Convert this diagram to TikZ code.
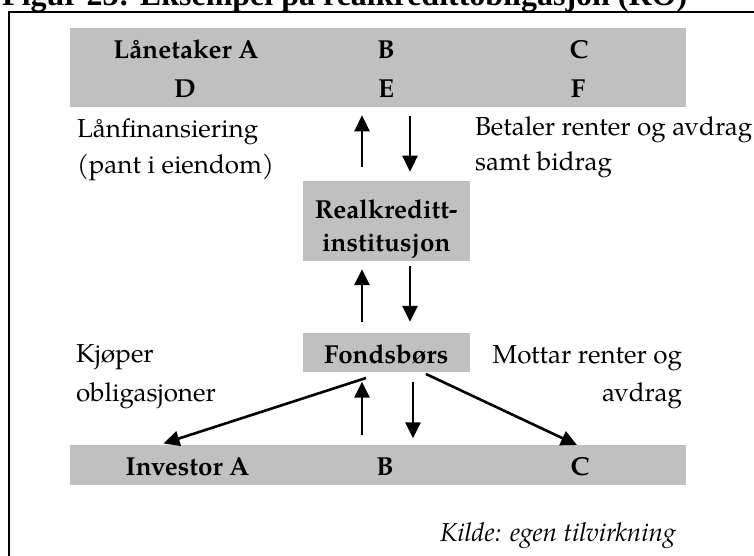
\documentclass[tikz,border=0pt]{standalone}
\usepackage{fontspec}
\setmainfont{TeX Gyre Pagella}
\newfontfamily\titlefont{Liberation Serif}
\usetikzlibrary{arrows.meta}
\definecolor{boxgray}{HTML}{C0C0C0}
\begin{document}
\begin{tikzpicture}[x=1pt,y=-1pt,
  gbox/.style={fill=boxgray, draw=none, inner sep=0pt, outer sep=0pt},
  lbl/.style={inner sep=0pt, outer sep=0pt, font=\fontsize{26}{30}\selectfont},
  blbl/.style={inner sep=0pt, outer sep=0pt, font=\fontsize{26}{30}\selectfont\bfseries},
  ilbl/.style={inner sep=0pt, outer sep=0pt, font=\fontsize{26}{30}\selectfont\itshape},
  arr/.style={line width=2.6pt, -{Triangle[length=16pt,width=15pt]}}]
\useasboundingbox (0,0) rectangle (754,556);
% title (cut off at the top)
\node[anchor=base west, inner sep=0pt, font=\titlefont\fontsize{32}{36}\selectfont\bfseries] (title) at (2,5.5) {Figur 23: Eksempel på realkredittobligasjon (RO)};
% frame
\draw[line width=2.5pt] (9,600) -- (9,12) -- (800,12);
% boxes
\node[gbox, minimum width=616pt, minimum height=79pt] (topbox) at (378,67.8) {};
\node[gbox, minimum width=167.3pt, minimum height=80pt] (realbox) at (386.3,220.7) {};
\node[gbox, minimum width=167.3pt, minimum height=39pt] (fondbox) at (386.3,352.8) {};
\node[gbox, minimum width=616pt, minimum height=40pt] (invbar) at (378,465) {};
% top box text
\node[blbl, anchor=base] (tA) at (186,59) {Lånetaker A};
\node[blbl, anchor=base] (tB) at (386,59) {B};
\node[blbl, anchor=base] (tC) at (579,59) {C};
\node[blbl, anchor=base] (tD) at (185,98) {D};
\node[blbl, anchor=base] (tE) at (386,98) {E};
\node[blbl, anchor=base] (tF) at (578,98) {F};
% middle boxes text
\node[blbl, anchor=base] (r1) at (386.3,218) {Realkreditt-};
\node[blbl, anchor=base] (r2) at (386.3,251) {institusjon};
\node[blbl, anchor=base] (fb) at (386.3,363.3) {Fondsbørs};
% bottom bar text
\node[blbl, anchor=base] (iA) at (187.5,475.7) {Investor A};
\node[blbl, anchor=base] (iB) at (385,475.7) {B};
\node[blbl, anchor=base] (iC) at (580,475.7) {C};
% side labels
\node[lbl, anchor=base west] (l1) at (77,137.5) {Lånfinansiering};
\node[lbl, anchor=base west] (l2) at (77,173) {(pant i eiendom)};
\node[lbl, anchor=base west] (b1) at (475,136) {Betaler renter og avdrag};
\node[lbl, anchor=base west] (b2) at (475,171) {samt bidrag};
\node[lbl, anchor=base west] (k1) at (76,362) {Kjøper};
\node[lbl, anchor=base west] (k2) at (76,401.5) {obligasjoner};
\node[lbl, anchor=base east] (m1) at (682,363) {Mottar renter og};
\node[lbl, anchor=base east] (m2) at (682,401.5) {avdrag};
\node[ilbl, anchor=base east] (src) at (676,541) {Kilde: egen tilvirkning};
% arrow columns
\coordinate (ux) at (362,0);
\coordinate (dx) at (410,0);
\coordinate (dx2) at (413,0);
% top box <-> Realkreditt
\draw[arr, shorten <=14pt, shorten >=8pt] (realbox.north -| ux) -- (topbox.south -| ux);
\draw[arr, shorten <=9pt, shorten >=9pt] (topbox.south -| dx) -- (realbox.north -| dx);
% Realkreditt <-> Fondsbørs
\draw[arr, shorten <=11.5pt, shorten >=8.5pt] (fondbox.north -| ux) -- (realbox.south -| ux);
\draw[arr, shorten <=5.5pt, shorten >=11.5pt] (realbox.south -| dx) -- (fondbox.north -| dx);
% Fondsbørs <-> investors
\draw[arr, shorten <=10pt, shorten >=9.4pt] (invbar.north -| ux) -- (fondbox.south -| ux);
\draw[arr, shorten <=9.4pt, shorten >=6.7pt] (fondbox.south -| dx2) -- (invbar.north -| dx2);
\draw[arr] ([xshift=-20.3pt, yshift=-5.7pt]fondbox.south) -- ([xshift=-214.5pt, yshift=1.5pt]invbar.north);
\draw[arr] ([xshift=39.7pt, yshift=-1.7pt]fondbox.south) -- ([xshift=199pt]invbar.north);
\end{tikzpicture}
\end{document}
